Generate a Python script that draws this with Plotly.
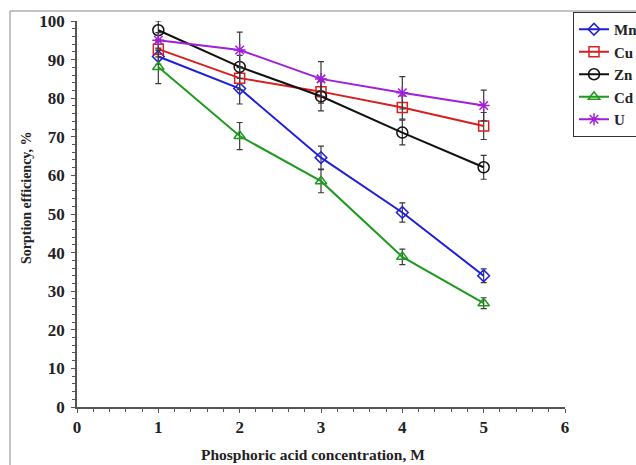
import plotly.graph_objects as go

x_conc = [1, 2, 3, 4, 5]
mn = [90.8, 82.5, 64.6, 50.4, 34.0]
cu = [92.7, 85.2, 81.7, 77.6, 72.8]
zn = [97.6, 88.1, 80.5, 71.1, 62.1]
cd = [88.1, 70.2, 58.5, 38.9, 26.9]
u = [95.0, 92.5, 85.0, 81.4, 78.1]

mn_err = [2.0, 4.0, 3.0, 2.5, 1.8]
cu_err = [2.0, 3.0, 3.0, 3.0, 3.5]
zn_err = [2.4, 3.0, 3.8, 3.2, 3.1]
cd_err = [4.3, 3.5, 3.0, 2.0, 1.4]
u_err = [2.0, 4.6, 4.5, 4.2, 4.0]

series = [
    ("Mn", mn, mn_err, "#1f1fd8", "diamond-open", 9),
    ("Cu", cu, cu_err, "#d81f1f", "square-open", 10),
    ("Zn", zn, zn_err, "#111111", "circle-open", 11),
    ("Cd", cd, cd_err, "#1f9a1f", "triangle-up-open", 10),
    ("U", u, u_err, "#a01fd8", "asterisk-open", 10),
]

FONT = "Liberation Serif"

fig = go.Figure()
for name, ys, errs, color, sym, size in series:
    fig.add_trace(go.Scatter(
        x=x_conc, y=ys, name=name, mode="lines+markers",
        legendgroup=name,
        line=dict(color=color, width=2),
        marker=dict(symbol=sym, size=size, color=color,
                    line=dict(color=color, width=1.5)),
        error_y=dict(type="data", array=errs, visible=True,
                     color="#3a3a3a", thickness=1.2, width=3),
    ))

axis_common = dict(
    showgrid=False, zeroline=False, showline=True,
    linecolor="#555555", linewidth=1.5,
    ticks="outside", ticklen=4, tickwidth=1, tickcolor="#555555",
    tickfont=dict(family=FONT, size=17, color="#222222", weight="bold"),
)

fig.update_xaxes(range=[0, 6], dtick=1, tick0=0,
                 minor=dict(dtick=0.2, ticks="outside", ticklen=3,
                            tickcolor="#555555", tickwidth=1),
                 **axis_common)
fig.update_yaxes(range=[0, 100], dtick=10, tick0=0, ticklabelstandoff=3,
                 minor=dict(dtick=2, ticks="outside", ticklen=3,
                            tickcolor="#555555", tickwidth=1),
                 **axis_common)

fig.add_annotation(text="<b>Phosphoric acid concentration, M</b>",
                   xref="paper", yref="paper", x=(313 - 77) / 488, y=(407 - 454) / 386,
                   showarrow=False, xanchor="center", yanchor="middle",
                   font=dict(family=FONT, size=15.5, color="#222222"))
fig.add_annotation(text="<b>Sorption efficiency, %</b>",
                   xref="paper", yref="paper", x=(26 - 77) / 488, y=(407 - 198) / 386,
                   showarrow=False, xanchor="center", yanchor="middle", textangle=-90,
                   font=dict(family=FONT, size=14, color="#222222"))

fig.add_shape(type="rect", xref="paper", yref="paper",
              x0=(10 - 77) / 488, x1=2, y0=-1, y1=(407 - 11) / 386,
              line=dict(color="#888888", width=1), fillcolor="rgba(0,0,0,0)",
              layer="below")

fig.update_layout(
    width=636, height=465,
    margin=dict(l=77, r=71, t=21, b=58, autoexpand=False),
    paper_bgcolor="white", plot_bgcolor="white",
    showlegend=True,
    legend=dict(x=(573 - 77) / 488, y=(407 - 12) / 386, xanchor="left", yanchor="top",
                bordercolor="#333333", borderwidth=1, bgcolor="white",
                traceorder="grouped", tracegroupgap=0,
                font=dict(family=FONT, size=15, color="#222222", weight="bold")),
)

fig.write_html("out.html")
